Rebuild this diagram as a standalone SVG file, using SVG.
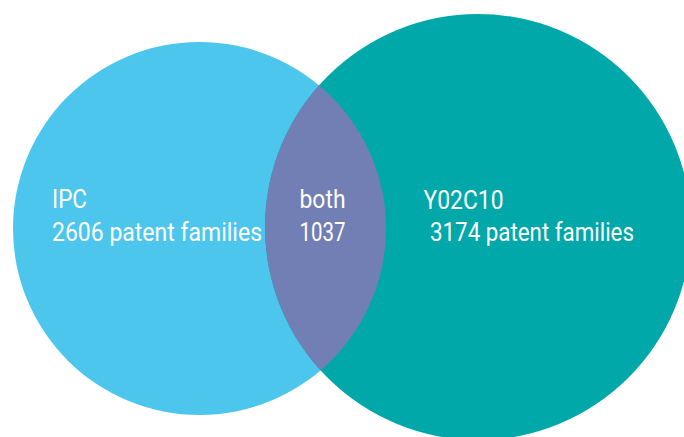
<svg xmlns="http://www.w3.org/2000/svg" width="684" height="437" viewBox="0 0 684 437">
  <style>
    .label { font-family: Roboto, "Liberation Sans", Arial, sans-serif; font-size: 26px; fill: #ffffff; }
  </style>
  <defs>
    <clipPath id="clip-ipc">
      <circle cx="199.5" cy="228.5" r="186.5"/>
    </clipPath>
  </defs>
  <rect width="684" height="437" fill="#ffffff"/>

  <g id="set-ipc">
    <circle cx="199.5" cy="228.5" r="186.5" fill="#4DC6EE"/>
  </g>

  <g id="set-y02c10">
    <circle cx="478" cy="227" r="213" fill="#00A8AA"/>
  </g>

  <g id="set-both">
    <circle cx="478" cy="227" r="213" fill="#717FB5" clip-path="url(#clip-ipc)"/>
  </g>

  <g id="labels">
    <text class="label" x="52" y="207.5" textLength="35" lengthAdjust="spacingAndGlyphs">IPC</text>
    <text class="label" x="52" y="240.5" textLength="210" lengthAdjust="spacingAndGlyphs">2606 patent families</text>
    <text class="label" x="299.5" y="207.5" textLength="46" lengthAdjust="spacingAndGlyphs">both</text>
    <text class="label" x="299.5" y="240.5" textLength="46" lengthAdjust="spacingAndGlyphs">1037</text>
    <text class="label" x="423.5" y="209" textLength="80" lengthAdjust="spacingAndGlyphs">Y02C10</text>
    <text class="label" x="430" y="240.5" textLength="204" lengthAdjust="spacingAndGlyphs">3174 patent families</text>
  </g>
</svg>
